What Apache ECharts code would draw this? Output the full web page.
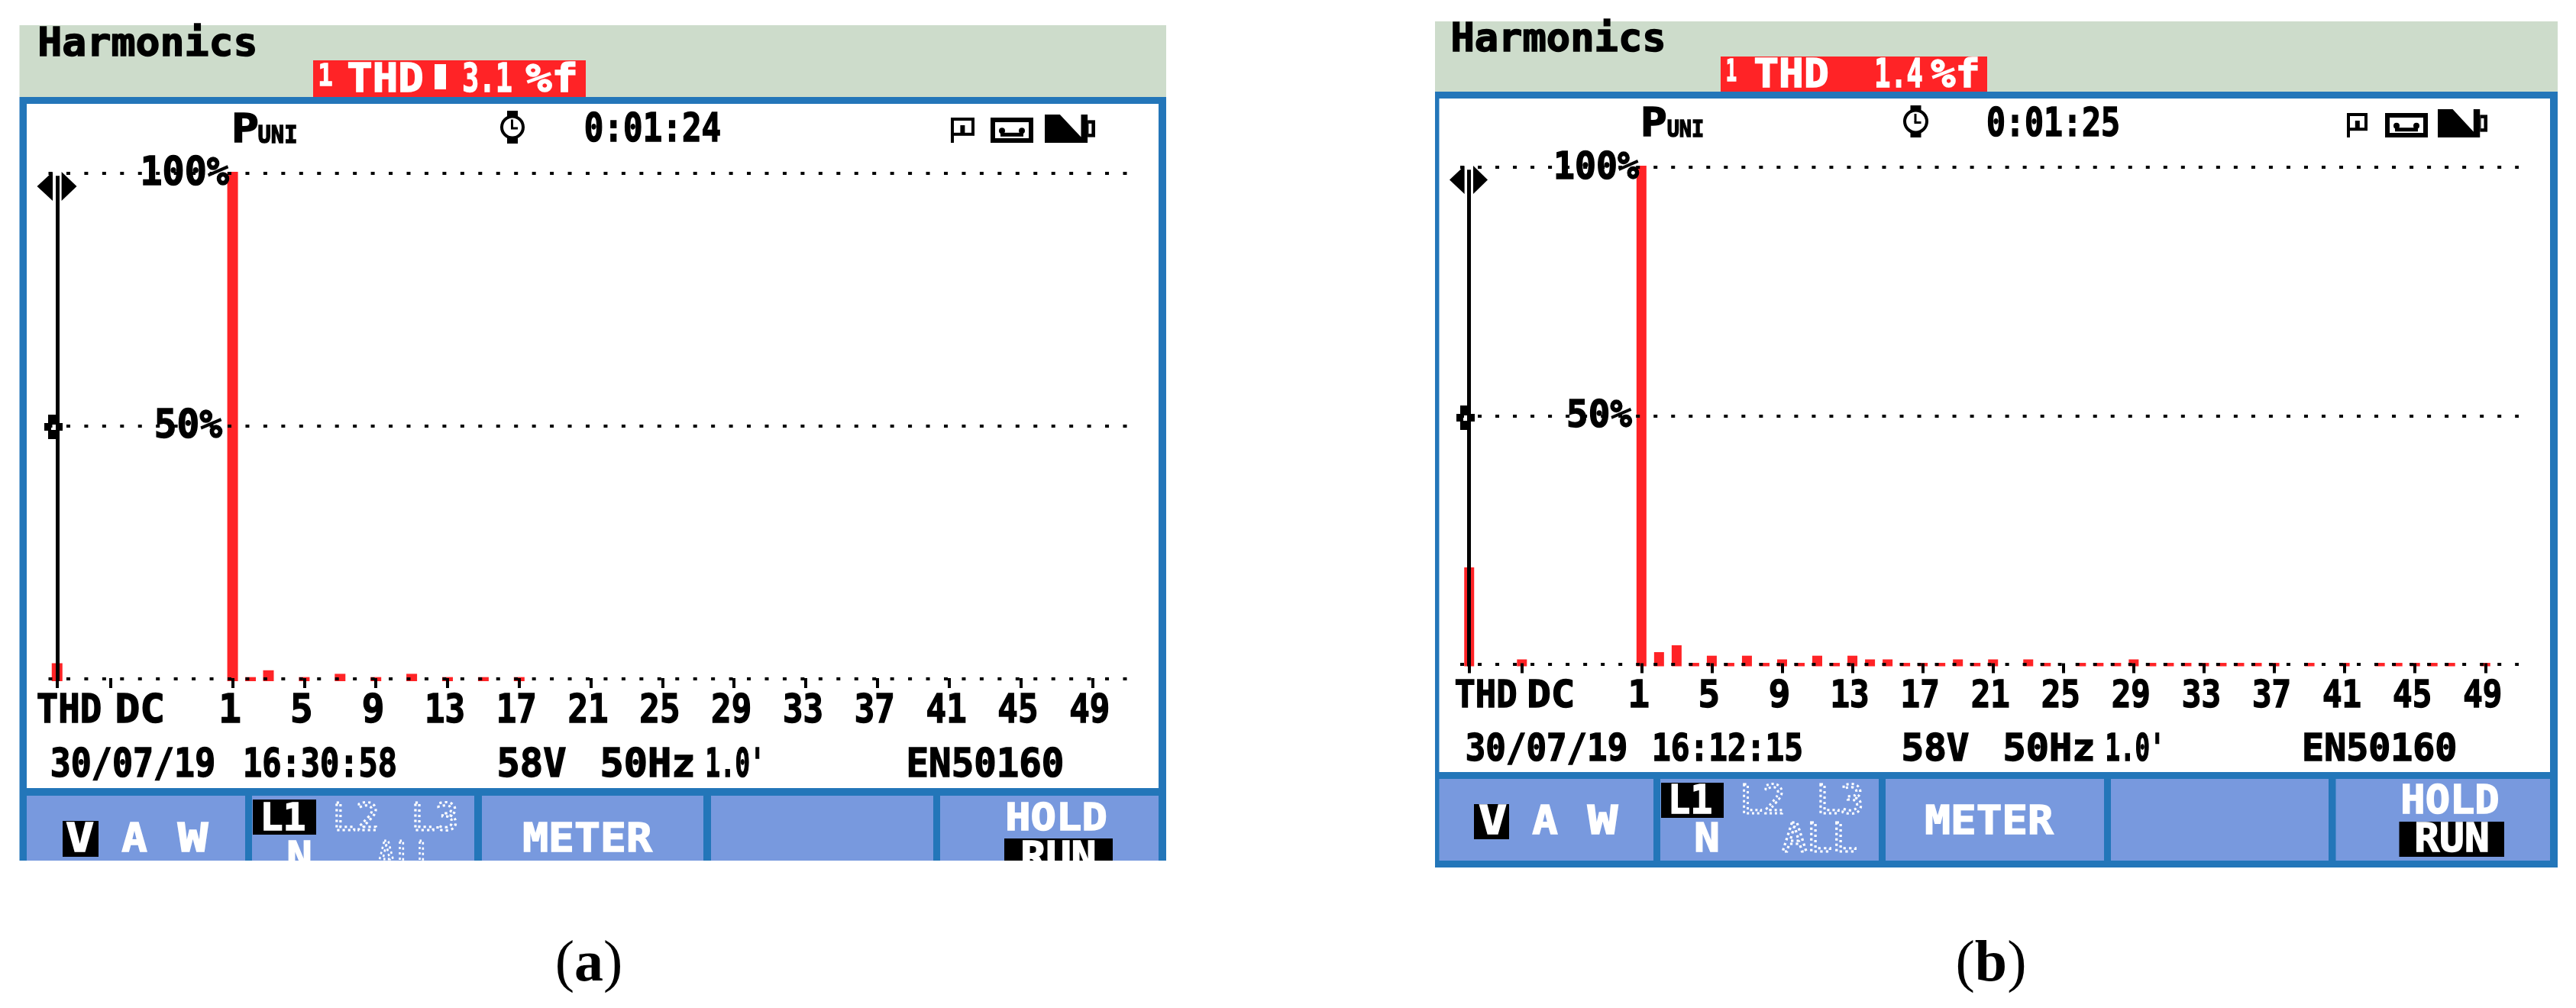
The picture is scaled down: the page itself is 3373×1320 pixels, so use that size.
<!DOCTYPE html>
<html><head><meta charset="utf-8">
<style>html,body{margin:0;padding:0;background:#fff}#c{width:3373px;height:1320px}</style>
<script src="https://cdn.jsdelivr.net/npm/echarts@6/dist/echarts.min.js"></script>
</head><body><div id="c"></div>
<script>
// ---- data ----
const harmonicOrders = [1,2,3,4,5,6,7,8,9,10,11,12,13,14,15,16,17,18,19,20,21,22,23,24,25,26,27,28,29,30,31,32,33,34,35,36,37,38,39,40,41,42,43,44,45,46,47,48,49,50];
const tickLabels = ['THD','DC','1','5','9','13','17','21','25','29','33','37','41','45','49'];
const percentLabels = ['100%','50%'];
const thdA = 3.1, dcA = null;
const harmonicsA = [100.3,0.35,1.7,null,0.35,null,1.0,null,0.35,null,1.0,null,0.35,null,0.35,null,0.35,null,null,null,null,null,null,null,null,null,null,null,null,null,null,null,null,null,null,null,null,null,null,null,null,null,null,null,null,null,null,null,null,null];
const thdB = 19.5, dcB = 1.0;
const harmonicsB = [100.3,2.46,3.84,0.3,1.74,0.3,1.74,0.3,1.0,0.3,1.74,0.3,1.74,1.0,1.0,0.3,0.3,0.3,1.0,0.3,1.0,null,1.0,0.3,null,0.3,0.3,0.3,1.0,0.3,0.3,0.3,0.3,0.3,0.3,0.3,0.3,null,0.3,null,0.3,null,0.3,0.3,0.3,0.3,0.3,null,0.3,null];

const C = {green:'#CDDCCB', blue:'#2376B9', btn:'#7899DE', red:'#FF2326', ink:'#000', white:'#fff'};
const els = [];
const R = (x,y,w,h,fill,z=-5)=>els.push({type:'rect',silent:true,z,shape:{x,y,width:w,height:h},style:{fill}});
const P = (pts,fill,z=5)=>els.push({type:'polygon',silent:true,z,shape:{points:pts},style:{fill}});
const ADV=.602, BEAR=.05, DESC=.21, MONO='"DejaVu Sans Mono"';
// monospace text fitted between x0 and x1, caps between y0 and y1
function T(str,x0,x1,y0,y1,fill=C.ink,extra={}){
  const fs=(y1-y0)/.729, n=str.length;
  const sx=(x1-x0)/(n*ADV*fs-2*BEAR*fs);
  els.push({type:'text',silent:true,z:20,x:x0-BEAR*fs*sx,y:y1+DESC*fs,scaleX:sx,
    style:Object.assign({text:str,fill,font:`bold ${fs}px ${MONO}`,textAlign:'left',textVerticalAlign:'bottom',stroke:fill,lineWidth:1.5},extra)});
}
function D(str,x0,x1,y0,y1){ // dotted outline text of inactive soft keys
  T(str,x0,x1,y0,y1,'none',{stroke:C.white,lineWidth:3,lineDash:[3,4],font:`${(y1-y0)/.729}px ${MONO}`});
}
function watch(x0,x1,y0,y1){
  const cx=(x0+x1)/2,cy=(y0+y1)/2,h=y1-y0,w=x1-x0;
  R(cx-7,y0,14,h*.2,C.ink,5);R(cx-7,y1-h*.2,14,h*.2,C.ink,5);
  els.push({type:'circle',silent:true,z:6,shape:{cx,cy,r:w/2-2},style:{fill:'#fff',stroke:C.ink,lineWidth:4}});
  R(cx-2,cy-10,3,11,C.ink,7);R(cx-2,cy,9,3,C.ink,7);
}
function icons(f0,f1,t0,t1,b0,b1,y0,yB,y1){
  const h=y1-y0,fw=f1-f0;
  R(f0,y0,4,h,C.ink,5);R(f0,y0,fw,4,C.ink,5);R(f1-4,y0,4,h*.62,C.ink,5);R(f0,y0+h*.6,fw,4,C.ink,5);
  R(f0+fw*.4,y0+10,6,10,C.ink,5);
  R(t0,y0,t1-t0,h,C.ink,5);R(t0+6,y0+6,t1-t0-12,h-12,C.white,6);
  R(t0+13,y0+h*.6,t1-t0-26,5,C.ink,7);
  els.push({type:'circle',silent:true,z:7,shape:{cx:t0+15,cy:y0+h*.52,r:4},style:{fill:C.ink}});
  els.push({type:'circle',silent:true,z:7,shape:{cx:t1-15,cy:y0+h*.52,r:4},style:{fill:C.ink}});
  const bw=b1-b0,bh=y1-yB;
  R(b0,yB,bw*.85,bh,C.ink,5);R(b0+bw*.85,yB+bh*.2,bw*.15,bh*.6,C.ink,5);
  R(b0+bw*.87,yB+bh*.32,bw*.06,bh*.36,C.white,6);
  P([[b0+bw*.3,yB],[b0+bw*.72,yB],[b0+bw*.72,yB+bh*.8]],C.white,6);
}
function cursors(l0,l1,r0,r1,yTop,yBot,cx,cy){
  const m=(yTop+yBot)/2;
  P([[l0,m],[l1,yTop],[l1,yBot]],C.ink);P([[r1,m],[r0,yTop],[r0,yBot]],C.ink);
  P([[cx-12,cy-5],[cx-7,cy-5],[cx-7,cy-16],[cx+7,cy-16],[cx+7,cy-5],[cx+12,cy-5],[cx+12,cy+5],[cx+7,cy+5],[cx+7,cy+16],[cx-7,cy+16],[cx-7,cy+5],[cx-12,cy+5]],C.ink);
  R(cx-3,cy-3,7,7,C.white,6);
}
// ---- panel (a) furniture ----
R(25.5,33,1501.5,94,C.green);R(25.5,127,1501.5,1000,C.blue);R(35,136,1482,896,C.white);
[[35,321],[330,621],[631,921],[931,1222],[1231,1517]].forEach(b=>R(b[0],1042,b[1]-b[0],85,C.btn));
R(410,79,357,48,C.red,-4);
T('Harmonics',52,335,37,75);
T('1',418,434,84,113,C.white);T('THD',457,552,84,122,C.white);R(569,84,15,33,C.white,20);T('3.1',607,669,84,122,C.white);T('%f',691,754,84,122,C.white);
T('P',306,336,150,188);T('UNI',339,388,165,188);watch(655,687,145,188);T('0:01:24',767,942,150,187);
icons(1245,1276,1297,1353,1368,1434,154,150,187);
cursors(48.5,69,80.6,100.5,225,263,70,559);
T('30/07/19',68,280,981,1019);T('16:30:58',320,518,981,1019);T('58V',653,739,981,1019);T('50Hz',788,908,981,1019);T("1.0'",925,1000,981,1019);T('EN50160',1189,1391,981,1019);
R(82,1075,47,47,C.ink,5);T('V',89,120,1080,1117,C.white);T('A',162,190,1080,1117,C.white);T('W',236,269,1080,1117,C.white);
R(331,1047,83,46,C.ink,5);T('L1',343,398,1052,1088,C.white);D('L2',438,494,1052,1088);D('L3',541,598,1052,1088);
T('N',378,406,1103,1141,C.white);D('ALL',495,569,1103,1141);
T('METER',687,851,1080,1117,C.white);T('HOLD',1319,1447,1052,1088,C.white);
R(1315,1098,142,40,C.ink,5);T('RUN',1339,1433,1103,1141,C.white);
R(20,1127,1515,30,C.white,50);
// ---- panel (b) furniture ----
R(1879,28,1470,92,C.green);R(1879,120,1470,1016,C.blue);R(1884.5,129,1454.5,882,C.white);
[[1884.5,2165],[2174,2460],[2469,2755],[2764,3049],[3058.5,3339]].forEach(b=>R(b[0],1020,b[1]-b[0],107,C.btn));
R(2253,74,349,46,C.red,-4);
T('Harmonics',1902,2179,32,69);
T('1',2261,2273,79,107,C.white);T('THD',2299,2392,79,116,C.white);T('1.4',2456,2516,79,116,C.white);T('%f',2531,2590,79,116,C.white);
T('P',2151,2180,143,180);T('UNI',2184,2230,158,180);watch(2492,2525,138,180);T('0:01:25',2603,2774,143,180);
icons(3073,3100,3123,3179,3192,3257,148,143,180);
cursors(1898,1917.6,1929,1948,217,254,1919,547);
T('30/07/19',1921,2129,961,997);T('16:12:15',2165,2359,961,997);T('58V',2492,2576,961,997);T('50Hz',2625,2741,961,997);T("1.0'",2758,2833,961,997);T('EN50160',3016.5,3215,961,997);
R(1930,1053,46,46,C.ink,5);T('V',1939,1970,1057,1094,C.white);T('A',2009,2037,1057,1094,C.white);T('W',2082,2115,1057,1094,C.white);
R(2175,1025,82,46,C.ink,5);T('L1',2186.5,2240,1030,1067,C.white);D('L2',2281,2335,1030,1067);D('L3',2381,2438,1030,1067);
T('N',2221,2249,1080,1117,C.white);D('ALL',2336,2429,1080,1117);
T('METER',2523,2686,1057,1094,C.white);T('HOLD',3146,3270,1030,1067,C.white);
R(3141.5,1076,137.5,46,C.ink,5);T('RUN',3164,3257,1080,1117,C.white);
// ---- captions ----
[['a',771],['b',2607]].forEach(([l,x])=>els.push({type:'text',silent:true,z:20,x,y:1264,style:{
  rich:{p:{font:'76px "Liberation Serif"',fill:'#000'},b:{font:'bold 76px "Liberation Serif"',fill:'#000'}},
  text:`{p|(}{b|${l}}{p|)}`,textAlign:'center',textVerticalAlign:'middle'}}));

// ---- axes and series ----
const THD_X=-8.8, DC_X=-5.8;
const labelled=[1,5,9,13,17,21,25,29,33,37,41,45,49];
const stretch=s=>s==='THD'?.91:s==='DC'?1.05:s.length===1?.95:.85;
function labelSeries(i,g,labelThd,labelDc){
  const xs=[labelThd,labelDc].concat(labelled);
  return [
    {type:'custom',name:'ticks'+i,xAxisIndex:i,yAxisIndex:i,silent:true,clip:false,z:8,
     data:xs.map(x=>[x,g.yMin]),
     renderItem:(p,api)=>{
       const c=api.coord([api.value(0),api.value(1)]),s=tickLabels[p.dataIndex];
       return {type:'text',x:c[0]-3.5,y:c[1]+g.capBottom+DESC*g.fs,scaleX:stretch(s),
         style:{text:s,fill:'#000',stroke:'#000',lineWidth:1.5,font:`bold ${g.fs}px ${MONO}`,textAlign:'center',textVerticalAlign:'bottom'}};
     }},
    {type:'custom',name:'pct'+i,xAxisIndex:i,yAxisIndex:i,silent:true,clip:false,z:8,
     data:[[g.xPct,100],[g.xPct,50]],
     renderItem:(p,api)=>{
       const c=api.coord([api.value(0),api.value(1)]),s=percentLabels[p.dataIndex];
       const full=p.dataIndex===0;
       return {type:'text',x:c[0]-(full?0:9),y:c[1]+g.capH/2-2+DESC*g.fs,scaleX:full?.93:.95,
         style:{text:s,fill:'#000',stroke:'#000',lineWidth:1.5,font:`bold ${g.fs}px ${MONO}`,textAlign:'right',textVerticalAlign:'bottom'}};
     }}
  ];
}
function panel(i,g,thd,dc,vals,labelThd,labelDc){
  const all=[[THD_X,thd],[DC_X,dc]].concat(harmonicOrders.map((h,k)=>[h,vals[k]])).filter(d=>d[1]!=null);
  return {
    grid:{left:g.left,top:g.top,width:g.width,height:g.height,containLabel:false},
    xAxis:{type:'value',gridIndex:i,min:g.xMin,max:g.xMax,offset:-4,z:10,splitLine:{show:false},axisLine:{show:false},
      axisTick:{show:true,length:g.tick,inside:false,lineStyle:{color:'#000',width:4},customValues:[THD_X,DC_X].concat(labelled)},
      axisLabel:{show:false}},
    yAxis:{type:'value',gridIndex:i,min:g.yMin,max:g.yMax,splitLine:{show:false},axisLine:{show:false},axisTick:{show:false},axisLabel:{show:false}},
    series:[
      {type:'bar',name:'panel'+i,xAxisIndex:i,yAxisIndex:i,stack:'s'+i,barWidth:g.bw,data:all,itemStyle:{color:C.red},silent:true,
       markLine:{silent:true,symbol:'none',animation:false,label:{show:false},z:6,
        lineStyle:{color:'#000',width:4,type:g.dash,opacity:1,cap:'butt'},
        data:[{yAxis:0},{yAxis:50},{yAxis:100},
          [{coord:[THD_X,g.curTop],lineStyle:{color:'#000',width:5,type:'solid',opacity:1}},{coord:[THD_X,g.yMin]}]]}},
      {type:'bar',name:'base'+i,xAxisIndex:i,yAxisIndex:i,stack:'s'+i,barWidth:g.bw,data:all.map(d=>[d[0],g.yMin]),itemStyle:{color:C.red},silent:true}
    ].concat(labelSeries(i,g,labelThd,labelDc))};
}
const pa=panel(0,{left:63.5,top:224,width:1412.5,height:668,xMin:-9.28,xMax:50.95,yMin:-0.453,yMax:100.45,bw:14,dash:[5,18.45],tick:13,fs:52,capH:38,capBottom:56,xPct:0.8,curTop:99.5},thdA,dcA,harmonicsA,-7.98,-4.02);
const pb=panel(1,{left:1912,top:216,width:1386,height:656.5,xMin:-9.31,xMax:50.9,yMin:-0.384,yMax:100.46,bw:13,dash:[5,18.02],tick:13,fs:50,capH:36.5,capBottom:55.5,xPct:0.85,curTop:99.5},thdB,dcB,harmonicsB,-7.7,-4.0);

const chart=echarts.init(document.getElementById('c'),null,{renderer:'canvas'});
chart.setOption({animation:false,backgroundColor:'#fff',
  grid:[pa.grid,pb.grid],xAxis:[pa.xAxis,pb.xAxis],yAxis:[pa.yAxis,pb.yAxis],
  series:pa.series.concat(pb.series),graphic:{elements:els}});
</script></body></html>
